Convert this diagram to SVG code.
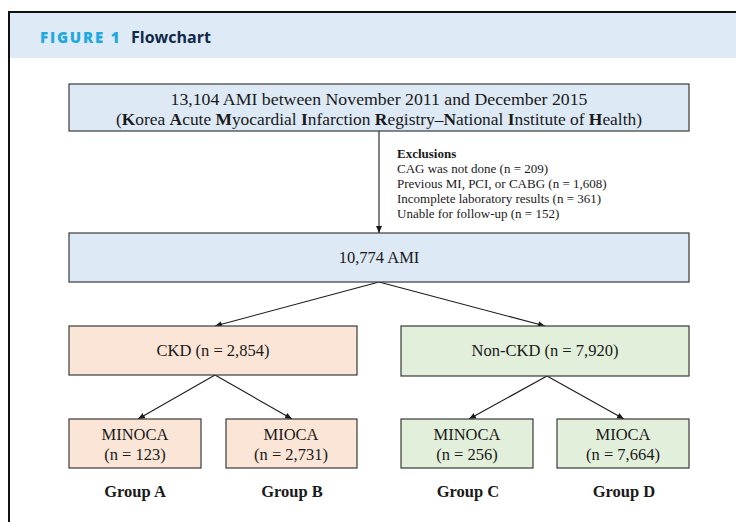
<svg xmlns="http://www.w3.org/2000/svg" width="736" height="522" viewBox="0 0 736 522">
<style>
.box{stroke:#3a3a3a;stroke-width:1.2}
.blue{fill:#dde9f5}
.pink{fill:#fbe5d6}
.green{fill:#e2efda}
.t{font-family:"Liberation Serif","DejaVu Serif",serif;font-size:16.5px;fill:#1a1a1a;text-anchor:middle}
.s{font-family:"Liberation Serif","DejaVu Serif",serif;font-size:13px;fill:#1a1a1a}
.g{font-family:"Liberation Serif","DejaVu Serif",serif;font-size:16.5px;font-weight:bold;fill:#1a1a1a;text-anchor:middle}
.c{stroke:#1a1a1a;stroke-width:1.1;fill:none;marker-end:url(#ah)}
</style>
<defs>
<marker id="ah" markerWidth="8" markerHeight="8" refX="7" refY="4" orient="auto" markerUnits="userSpaceOnUse">
<path d="M0,1 L7,4 L0,7 Z" fill="#1a1a1a"/>
</marker>
</defs>
<rect x="0" y="0" width="736" height="522" fill="#ffffff"/>
<g id="frame">
<rect x="9" y="13" width="727" height="45" fill="#deeaf6"/>
<path d="M9,522 L9,12 L736,12" fill="none" stroke="#111" stroke-width="2"/>
<text x="40" y="43" font-family="'Open Sans','DejaVu Sans',sans-serif" font-size="15" font-weight="800" fill="#1ea9e1" letter-spacing="1.8">FIGURE 1</text>
<text x="131" y="43" font-family="'Open Sans','DejaVu Sans',sans-serif" font-size="16" font-weight="bold" fill="#0f2a4a">Flowchart</text>
</g>
<g id="connectors">
<line class="c" x1="379" y1="131" x2="379" y2="233"/>
<line class="c" x1="379" y1="282" x2="215" y2="326"/>
<line class="c" x1="379" y1="282" x2="545" y2="326"/>
<line class="c" x1="215" y1="375" x2="138" y2="419"/>
<line class="c" x1="215" y1="375" x2="292" y2="419"/>
<line class="c" x1="547" y1="376" x2="469" y2="419"/>
<line class="c" x1="547" y1="376" x2="624" y2="419"/>
</g>
<g id="node-total">
<rect class="box blue" x="69" y="84" width="620" height="47"/>
<text class="t" x="379" y="105" textLength="417" lengthAdjust="spacingAndGlyphs">13,104 AMI  between November 2011 and December 2015</text>
<text class="t" x="379" y="125" textLength="526" lengthAdjust="spacingAndGlyphs">(<tspan font-weight="bold">K</tspan>orea <tspan font-weight="bold">A</tspan>cute <tspan font-weight="bold">M</tspan>yocardial <tspan font-weight="bold">I</tspan>nfarction <tspan font-weight="bold">R</tspan>egistry–<tspan font-weight="bold">N</tspan>ational <tspan font-weight="bold">I</tspan>nstitute of <tspan font-weight="bold">H</tspan>ealth)</text>
</g>
<g id="exclusions">
<text class="s" x="397" y="158" font-weight="bold">Exclusions</text>
<text class="s" x="397" y="173">CAG was not done (n = 209)</text>
<text class="s" x="397" y="188">Previous MI, PCI, or CABG (n = 1,608)</text>
<text class="s" x="397" y="203">Incomplete laboratory results (n = 361)</text>
<text class="s" x="397" y="218">Unable for follow-up (n = 152)</text>
</g>
<g id="node-10774">
<rect class="box blue" x="69" y="233" width="620" height="49"/>
<text class="t" x="379" y="263">10,774 AMI</text>
</g>
<g id="node-ckd">
<rect class="box pink" x="69" y="326" width="288" height="49"/>
<text class="t" x="213" y="356">CKD (n = 2,854)</text>
</g>
<g id="node-nonckd">
<rect class="box green" x="401" y="326" width="288" height="50"/>
<text class="t" x="545" y="356">Non-CKD (n = 7,920)</text>
</g>
<g id="node-a">
<rect class="box pink" x="69" y="419" width="132" height="49"/>
<text class="t" x="135" y="440">MINOCA</text>
<text class="t" x="135" y="460">(n = 123)</text>
</g>
<g id="node-b">
<rect class="box pink" x="226" y="419" width="131" height="49"/>
<text class="t" x="291" y="440">MIOCA</text>
<text class="t" x="291" y="460">(n = 2,731)</text>
</g>
<g id="node-c">
<rect class="box green" x="401" y="419" width="132" height="49"/>
<text class="t" x="467" y="440">MINOCA</text>
<text class="t" x="467" y="460">(n = 256)</text>
</g>
<g id="node-d">
<rect class="box green" x="557" y="419" width="132" height="49"/>
<text class="t" x="623" y="440">MIOCA</text>
<text class="t" x="623" y="460">(n = 7,664)</text>
</g>
<g id="labels">
<text class="g" x="135" y="497">Group A</text>
<text class="g" x="292" y="497">Group B</text>
<text class="g" x="468" y="497">Group C</text>
<text class="g" x="624" y="497">Group D</text>
</g>
</svg>
